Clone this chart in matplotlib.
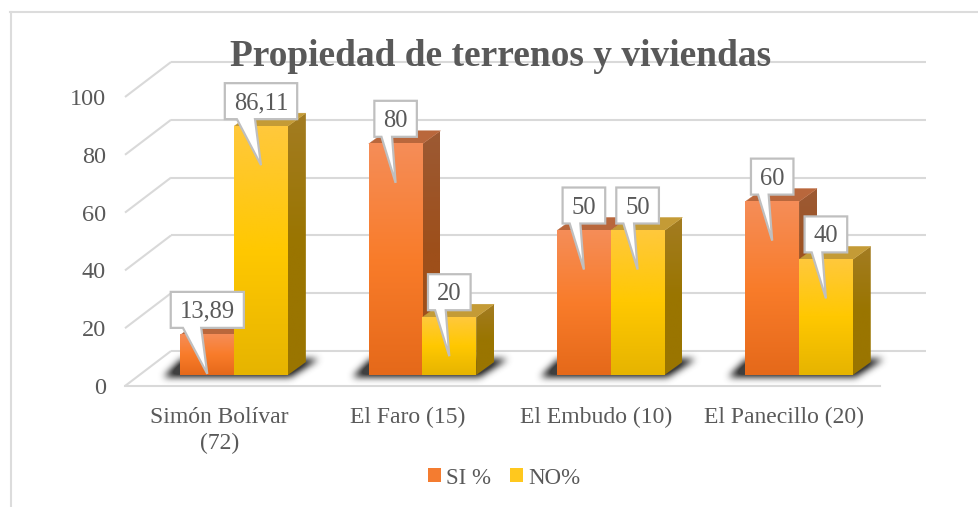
import numpy as np
import matplotlib
matplotlib.use('Agg')
import matplotlib.pyplot as plt
from matplotlib.colors import LinearSegmentedColormap
from matplotlib.lines import Line2D
from matplotlib.patches import Patch, Polygon
from matplotlib.path import Path
from matplotlib.transforms import Affine2D

# data
categories = ['Simón Bolívar\n(72)', 'El Faro (15)', 'El Embudo (10)', 'El Panecillo (20)']
si_values = [13.89, 80, 50, 60]
no_values = [86.11, 20, 50, 40]
si_labels = ['13,89', '80', '50', '60']
no_labels = ['86,11', '20', '50', '40']
y_ticks = [0, 20, 40, 60, 80, 100]
title = 'Propiedad de terrenos y viviendas'
series_names = ['SI %', 'NO%']

W, H = 979, 507
TEXT = '#595959'
GRID = '#d9d9d9'

plt.rcParams['font.family'] = ['Liberation Serif', 'DejaVu Serif']

# pixels -> data units
px = 1 / 188.3
py = 100 / 289
y_low = -5

fig = plt.figure(figsize=(W / 100, H / 100), dpi=100)
# axes = front plane of the bars, in pixels of the picture
ax = fig.add_axes([140 / W, (H - 375 + y_low / py) / H, 753.2 / W, (289 - y_low / py) / H])
ax.patch.set_alpha(0)
for s in ax.spines.values():
    s.set_visible(False)

bar_w = 53.7 * px
bar_dx, bar_dy = 18 * px, 13 * py
front_dy, back_dy = -11 * py, 24 * py
x = np.arange(len(categories))

# ticks first, set_*ticks widens the limits
ax.set_xticks(x - 15 * px)
ax.set_xticklabels(categories, fontsize=17, color=TEXT, linespacing=1.3)
ax.set_yticks(np.array(y_ticks) + front_dy)
ax.set_yticklabels([str(v) for v in y_ticks], fontsize=17.5, color=TEXT)
ax.tick_params(axis='x', length=0, pad=12.7)
ax.tick_params(axis='y', length=0, pad=24.5)
ax.set_xlim(-0.5, 3.5)
ax.set_ylim(y_low, 100)

# chart frame, only top and left show in the crop
fig.add_artist(Line2D([10.5 / W, 10.5 / W], [0, (H - 12) / H], color='#dcdcdc', lw=1.5))
fig.add_artist(Line2D([10 / W, 1], [(H - 12) / H, (H - 12) / H], color='#dcdcdc', lw=1.5))

# walls: floor front is 11 px under the bars, back wall 24 px above
x_front0, x_front1 = -0.5 - 15 * px, 3.5 - 13 * px
wall_dx = 46 * px
for v in y_ticks:
    ax.plot([x_front0, x_front0 + wall_dx], [v + front_dy, v + back_dy], color=GRID, lw=1.5,
            clip_on=False, zorder=1, solid_capstyle='butt')
    ax.plot([x_front0 + wall_dx, x_front1 + wall_dx], [v + back_dy, v + back_dy], color=GRID, lw=1.5,
            clip_on=False, zorder=1, solid_capstyle='butt')
ax.plot([x_front0, x_front1], [front_dy, front_dy], color=GRID, lw=1.5, clip_on=False, zorder=1)

si_cmap = LinearSegmentedColormap.from_list('si', ['#f58d58', '#f97c2a', '#e5691a'])
no_cmap = LinearSegmentedColormap.from_list('no', ['#ffc83c', '#ffc800', '#e6b400'])
si_side = LinearSegmentedColormap.from_list('si_side', ['#9c5a34', '#9e4f1a', '#9e4f1a'])
no_side = LinearSegmentedColormap.from_list('no_side', ['#a37c22', '#9a7500', '#9a7500'])
grad = np.linspace(0, 1, 128).reshape(-1, 1)


def draw_bar(bx, v, cmap, top_col, side_cmap, z):
    # side face, gradient clipped to the slanted shape
    xr = bx + bar_w
    im = ax.imshow(grad, cmap=side_cmap, extent=[xr, xr + bar_dx, 0, v + bar_dy], aspect='auto', zorder=z, clip_on=True)
    side = Path([[xr, 0], [xr + bar_dx, bar_dy], [xr + bar_dx, v + bar_dy], [xr, v], [xr, 0]])
    im.set_clip_path(side, transform=ax.transData)
    # top face
    ax.add_patch(Polygon([[bx, v], [bx + bar_dx, v + bar_dy], [bx + bar_w + bar_dx, v + bar_dy], [bx + bar_w, v]],
                         fc=top_col, ec=top_col, lw=0.3, zorder=z, clip_on=False))
    # front face
    ax.imshow(grad, cmap=cmap, extent=[bx, bx + bar_w, 0, v], aspect='auto', zorder=z + 0.1, clip_on=False)


def draw_shadow(x0, x1):
    # blurred parallelogram on the floor, worked out in pixels around the bar pair
    pad = 40
    pair = int(round((x1 - x0) / px))
    wpx = pair + 2 * pad + 50
    hpx = 70
    xs = np.arange(wpx) - pad
    ys = np.arange(hpx) - 30
    xx, yy = np.meshgrid(xs, ys)
    frac = np.clip((yy + 3) / 21, 0, 1)
    left = -18 + 22 * frac
    right = pair + 2 + 33 * frac
    mask = ((xx >= left) & (xx <= right) & (yy >= -2) & (yy <= 15)).astype(float)
    kernel = np.ones(7) / 7
    for _ in range(3):
        mask = np.apply_along_axis(lambda r: np.convolve(r, kernel, mode='same'), 1, mask)
        mask = np.apply_along_axis(lambda r: np.convolve(r, kernel, mode='same'), 0, mask)
    rgba = np.zeros((hpx, wpx, 4))
    rgba[..., :3] = 0.25
    rgba[..., 3] = np.clip(mask * 1.3, 0, 1)
    ax.imshow(rgba, origin='lower', aspect='auto', zorder=2, clip_on=False,
              extent=[x0 - pad * px, x0 + (wpx - pad) * px, -30 * py, (hpx - 30) * py])


def draw_callout(cx, v, label):
    tip = ax.transData.transform((cx, v - 13.5))
    t = fig.text(tip[0] / W, (tip[1] + 56) / H, label, ha='center', va='baseline', fontsize=17.7, color=TEXT, zorder=21)
    w = t.get_window_extent(fig.canvas.get_renderer()).width + 18
    # box + wedge, relative to the tail tip
    pts = [(-w / 2, 46), (-w / 2 + 0.167 * w, 46), (0, 0), (-w / 2 + 0.417 * w, 46), (w / 2, 46),
           (w / 2, 82), (-w / 2, 82)]
    tr = Affine2D().translate(tip[0], tip[1])
    fig.add_artist(Polygon(pts, closed=True, fc='white', ec='#bfbfbf', lw=1.6, transform=tr, zorder=20))


for i in x:
    draw_shadow(i - bar_w, i + bar_w)
for i in x:
    draw_bar(i - bar_w, si_values[i], si_cmap, '#b9673c', si_side, 3 + i)
    draw_bar(i, no_values[i], no_cmap, '#c49b36', no_side, 3.5 + i)
ax.set_xlim(-0.5, 3.5)
ax.set_ylim(y_low, 100)

for i in x:
    draw_callout(i - bar_w / 2, si_values[i], si_labels[i])
    draw_callout(i + bar_w / 2, no_values[i], no_labels[i])

fig.text(501 / W, (H - 57) / H, title, ha='center', va='center', fontsize=26.9, fontweight='bold', color=TEXT, zorder=30)

handles = [Patch(fc='#f47c30', ec='none'), Patch(fc='#ffc81e', ec='none')]
fig.legend(handles, series_names, loc='center', bbox_to_anchor=(504 / W, (H - 478) / H), ncol=2, frameon=False,
           fontsize=16.5, labelcolor=TEXT, handlelength=0.57, handleheight=0.57, handletextpad=0.2, columnspacing=0.85)

fig.savefig('out.png', dpi=100)
